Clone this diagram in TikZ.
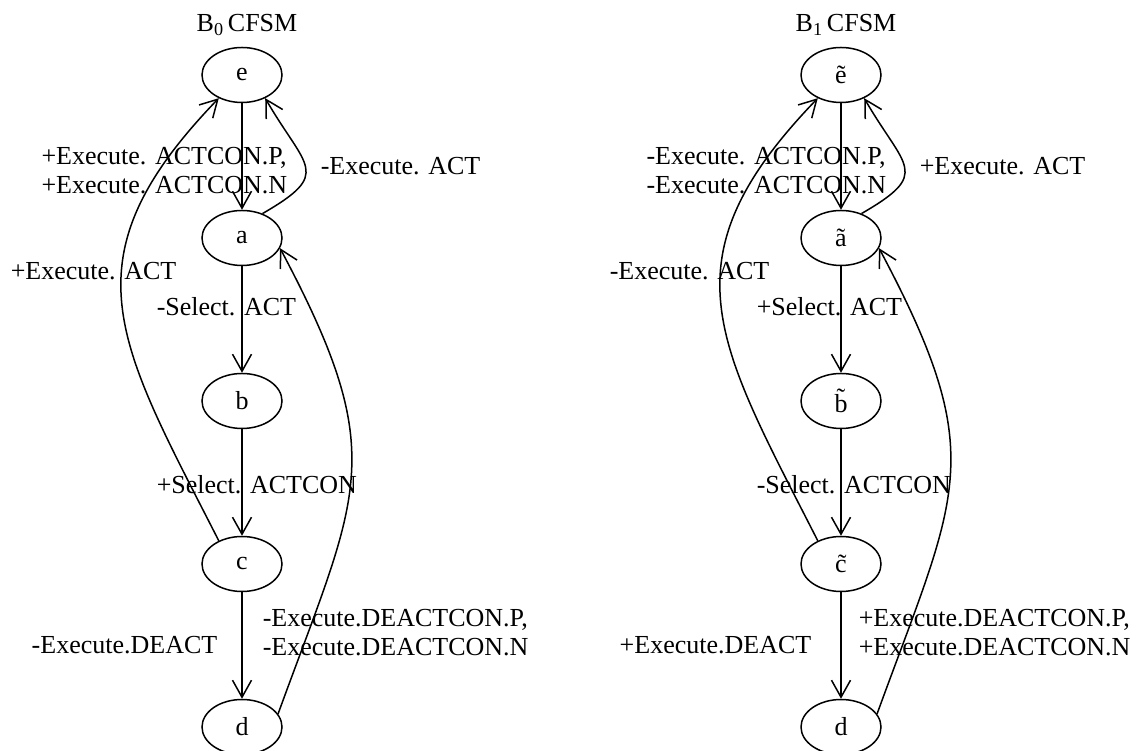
\documentclass[tikz,border=0pt]{standalone}
\usepackage{fontspec}
\setmainfont{Liberation Serif}
\usetikzlibrary{shapes.geometric, arrows.meta}

\begin{document}
\begin{tikzpicture}[x=1pt, y=1pt, >={Straight Barb[length=17pt, width=19pt]}, line width=1.5pt, font=\fontsize{26}{29}\selectfont]
  % Define styles
  \tikzstyle{state} = [ellipse, draw, minimum width=80pt, minimum height=55pt, inner sep=0pt]
  \tikzstyle{lbl} = [inner sep=0pt, align=left]

  \useasboundingbox (0,0) rectangle (1138,751);

  % B0 machine
  \node (title0) at (247,726) {B\textsubscript{0}\,CFSM};
  \node[state] (e0) at (242,676) {e};
  \node[state] (a0) at (242,513) {a};
  \node[state] (b0) at (242,350) {b};
  \node[state] (c0) at (242,187) {c};
  \node[state] (d0) at (242,24) {d};

  \draw[->] (e0) -- (a0);
  \draw[->] (a0.50) to[out=30, in=-60, looseness=1.8] (e0.-45);
  \draw[->] (a0) -- (b0);
  \draw[->] (b0) -- (c0);
  \draw[->] (c0.135) to[out=117, in=226, looseness=1.3] (e0.225);
  \draw[->] (c0) -- (d0);
  \draw[->] (d0.20) to[out=70, in=-62, looseness=1.3] (a0.-15);

  \node[lbl, anchor=east] (ea0) at (288,580) {+Execute. ACTCON.P,\\+Execute. ACTCON.N};
  \node[lbl, anchor=west] (ae0) at (320,585) {-Execute. ACT};
  \node[lbl, anchor=west] (ce0) at (10,480) {+Execute. ACT};
  \node[lbl, anchor=west] (ab0) at (156,444) {-Select. ACT};
  \node[lbl, anchor=west] (bc0) at (156,266) {+Select. ACTCON};
  \node[lbl, anchor=east] (cd0) at (218,106) {-Execute.DEACT};
  \node[lbl, anchor=west] (da0) at (262,118) {-Execute.DEACTCON.P,\\-Execute.DEACTCON.N};

  % B1 machine
  \node (title1) at (846,726) {B\textsubscript{1}\,CFSM};
  \node[state] (e1) at (841,676) {\~e};
  \node[state] (a1) at (841,513) {\~a};
  \node[state] (b1) at (841,350) {\~b};
  \node[state] (c1) at (841,187) {\~c};
  \node[state] (d1) at (841,24) {d};

  \draw[->] (e1) -- (a1);
  \draw[->] (a1.50) to[out=30, in=-60, looseness=1.8] (e1.-45);
  \draw[->] (a1) -- (b1);
  \draw[->] (b1) -- (c1);
  \draw[->] (c1.135) to[out=117, in=226, looseness=1.3] (e1.225);
  \draw[->] (c1) -- (d1);
  \draw[->] (d1.20) to[out=70, in=-62, looseness=1.3] (a1.-15);

  \node[lbl, anchor=east] (ea1) at (887,580) {-Execute. ACTCON.P,\\-Execute. ACTCON.N};
  \node[lbl, anchor=west] (ae1) at (919,585) {+Execute. ACT};
  \node[lbl, anchor=west] (ce1) at (609,480) {-Execute. ACT};
  \node[lbl, anchor=west] (ab1) at (756,444) {+Select. ACT};
  \node[lbl, anchor=west] (bc1) at (756,266) {-Select. ACTCON};
  \node[lbl, anchor=east] (cd1) at (812,106) {+Execute.DEACT};
  \node[lbl, anchor=west] (da1) at (858,118) {+Execute.DEACTCON.P,\\+Execute.DEACTCON.N};
\end{tikzpicture}
\end{document}
